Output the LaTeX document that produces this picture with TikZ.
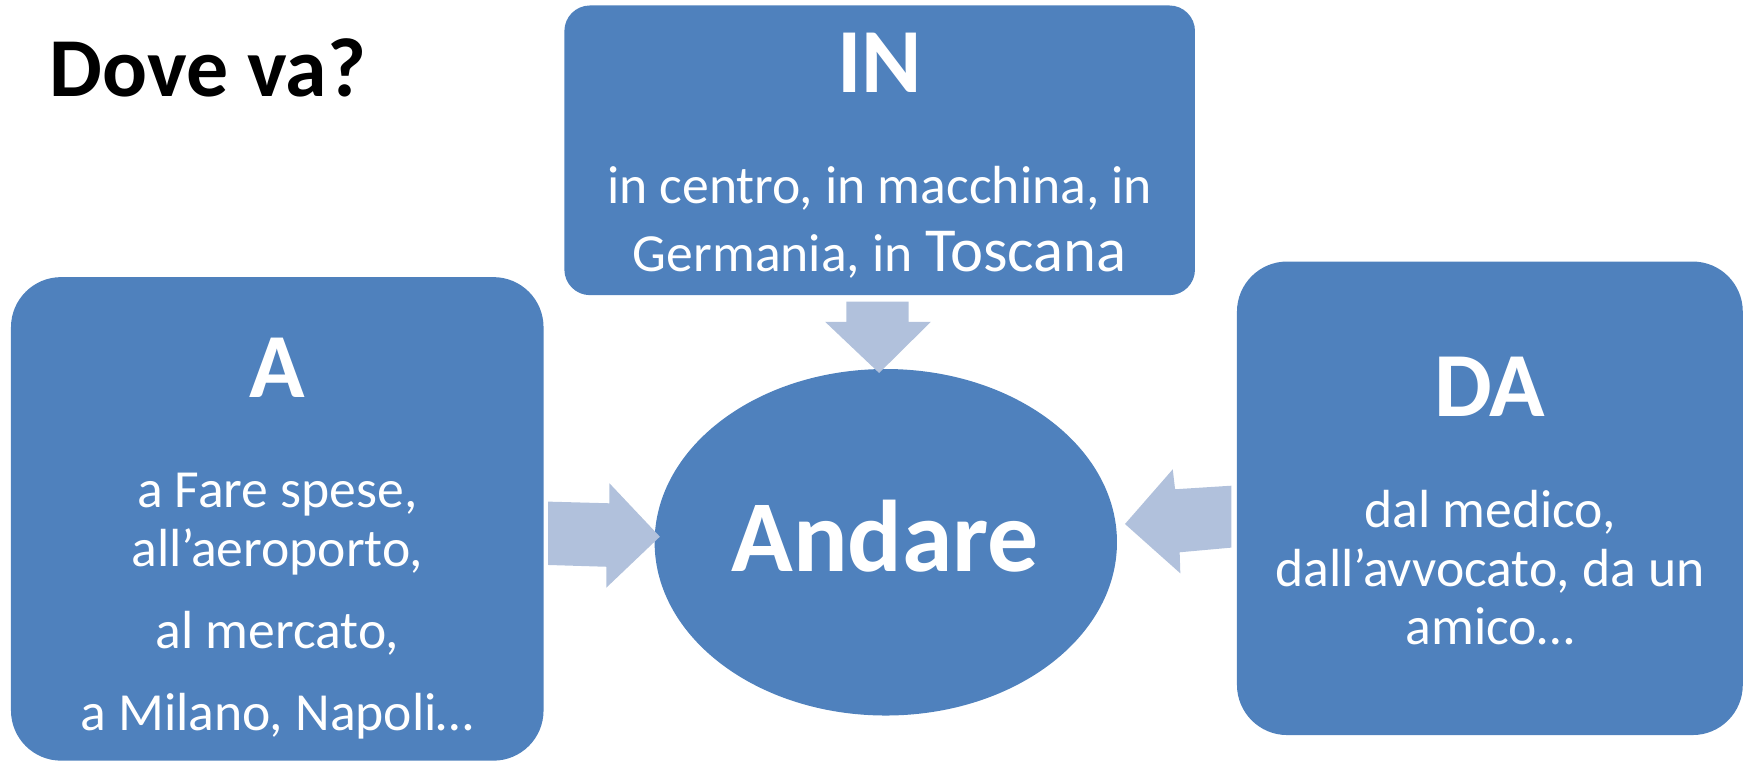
\documentclass[tikz,border=0pt]{standalone}
\usepackage{fontspec}
\setmainfont{Carlito}
\usetikzlibrary{shapes.geometric}
\definecolor{boxblue}{HTML}{4F81BD}
\definecolor{arrowblue}{HTML}{B1C1DC}
\tikzset{
  box/.style={fill=boxblue, draw=none, inner sep=0pt},
  blockarrow/.style={fill=arrowblue, draw=none},
  body/.style={text=white, inner sep=0pt, anchor=base, font=\fontsize{13.7pt}{15pt}\selectfont},
  head/.style={text=white, inner sep=0pt, anchor=base, font=\fontsize{23.4pt}{26pt}\selectfont\bfseries},
  title/.style={text=black, inner sep=0pt, anchor=base west, font=\fontsize{21.4pt}{24pt}\selectfont\bfseries},
}
\begin{document}
\begin{tikzpicture}[x=0.01cm, y=-0.01cm]
\useasboundingbox (0,0) rectangle (1568,683);
% title
\node[title] (title) at (44,87) {Dove va?};
% boxes
\node[box, rounded corners=0.23cm, minimum width=5.66cm, minimum height=2.60cm] (inbox) at (790,135) {};
\node[box, rounded corners=0.45cm, minimum width=4.78cm, minimum height=4.34cm] (abox) at (249,466) {};
\node[box, rounded corners=0.45cm, minimum width=4.54cm, minimum height=4.25cm] (dabox) at (1338,447.5) {};
\node[box, ellipse, minimum width=4.15cm, minimum height=3.11cm] (andare) at (795.5,487) {};
% block arrows
\fill[blockarrow] (760,271) -- (816,271) -- (816,289) -- (836,289) -- (789.5,335) -- (741,289) -- (760,289) -- cycle;
\fill[blockarrow] (492.3,450.5) -- (547.3,452) -- (547.3,434) -- (592.6,482) -- (544.5,527.8) -- (544.5,509) -- (492.3,507.4) -- cycle;
\fill[blockarrow] (1105.8,436.2) -- (1055.3,439.4) -- (1053.2,421.5) -- (1010.3,470.6) -- (1060,514.9) -- (1059.4,496) -- (1105.8,491.8) -- cycle;
% IN box text
\node[head] (inhead) at (790,83) {IN};
\node[body] (in1) at (790,183) {in centro, in macchina, in};
\node[body] (in2) at (790,244) {Germania, in {\fontsize{16pt}{17pt}\selectfont Toscana}};
% A box text
\node[head] (ahead) at (249,357) {A};
\node[body] (a1) at (249,456) {a Fare spese,};
\node[body] (a2) at (249,509) {all’aeroporto,};
\node[body] (a3) at (249,582) {al mercato,};
\node[body] (a4) at (249,655.6) {a Milano, Napoli…};
% DA box text
\node[head] (dahead) at (1338,374) {DA};
\node[body] (da1) at (1338,474) {dal medico,};
\node[body] (da2) at (1338,527) {dall’avvocato, da un};
\node[body] (da3) at (1338,579) {amico…};
% centre
\node[text=white, inner sep=0pt, anchor=base, font=\fontsize{26pt}{30pt}\selectfont\bfseries] (andaretext) at (795,513.4) {Andare};
\end{tikzpicture}
\end{document}
